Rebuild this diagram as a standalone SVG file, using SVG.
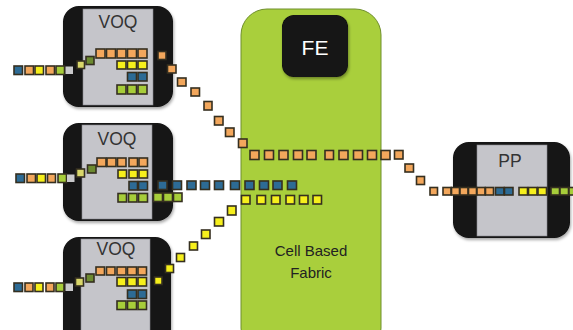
<svg xmlns="http://www.w3.org/2000/svg" width="573" height="330" viewBox="0 0 573 330">
<defs>
<style>
.frame{fill:#121212}
.inner{fill:#c5c5ca;stroke:#8a8a90;stroke-width:0.6}
.lbl{font-family:"Liberation Sans",Arial,sans-serif;font-size:17.5px;fill:#333;text-anchor:middle}
.fab{font-family:"Liberation Sans",Arial,sans-serif;font-size:15px;fill:#222;text-anchor:middle}
.fe{font-family:"Liberation Sans",Arial,sans-serif;font-size:21px;fill:#fff;text-anchor:middle}
rect.c{stroke:#352f20;stroke-width:1.6}
.b{fill:#2d6b95}
.o{fill:#f3a75c}
.y{fill:#f6ef1c}
.g{fill:#a7cd3a}
.k{fill:#c9c9cb}
.t{fill:#d9d76a}
.d{fill:#6c8a30}
</style>
<filter id="sh" x="-10%" y="-10%" width="120%" height="120%"><feDropShadow dx="1" dy="2" stdDeviation="1.5" flood-opacity="0.35"/></filter>
</defs>
<rect width="573" height="330" fill="#fff"/>

<g id="fabric">
<rect x="241" y="9" width="140" height="345" rx="26" fill="#a9cf3c" stroke="#6f8f2c" stroke-width="1"/>
<rect x="282" y="15" width="66" height="62" rx="12" fill="#121212" filter="url(#sh)"/>
<text class="fe" x="315" y="55">FE</text>
<text class="fab" x="311" y="256">Cell Based</text>
<text class="fab" x="311" y="278">Fabric</text>
</g>

<g id="voq1">
<rect class="frame" x="63" y="6" width="110" height="101" rx="16" filter="url(#sh)"/>
<rect class="inner" x="83" y="9" width="70" height="96"/>
<text class="lbl" x="118" y="28">VOQ</text>
<rect class="c b" x="14" y="66" width="8.5" height="8.5"/>
<rect class="c o" x="25" y="66" width="8.5" height="8.5"/>
<rect class="c y" x="35" y="66" width="8.5" height="8.5"/>
<rect class="c o" x="46" y="66" width="8.5" height="8.5"/>
<rect class="c g" x="56" y="66" width="8.5" height="8.5"/>
<rect class="k" x="65.5" y="66.5" width="7.5" height="7.5"/>
<rect class="c t" x="77" y="61" width="7.5" height="7.5"/>
<rect class="c d" x="86" y="56.5" width="8" height="8"/>
<rect class="c o" x="96" y="49" width="9" height="9"/>
<rect class="c o" x="106.5" y="49" width="9" height="9"/>
<rect class="c o" x="117" y="49" width="9" height="9"/>
<rect class="c o" x="127.5" y="49" width="9" height="9"/>
<rect class="c o" x="138" y="49" width="9" height="9"/>
<rect class="c y" x="117" y="61" width="9" height="8"/>
<rect class="c y" x="127.5" y="61" width="9" height="8"/>
<rect class="c y" x="138" y="61" width="9" height="8"/>
<rect class="c b" x="127.5" y="72.5" width="9" height="8.5"/>
<rect class="c b" x="138" y="72.5" width="9" height="8.5"/>
<rect class="c g" x="117" y="85" width="9" height="9"/>
<rect class="c g" x="127.5" y="85" width="9" height="9"/>
<rect class="c g" x="138" y="85" width="9" height="9"/>
</g>

<g id="voq2">
<rect class="frame" x="63" y="123" width="110" height="98" rx="16" filter="url(#sh)"/>
<rect class="inner" x="82" y="125" width="70" height="94"/>
<text class="lbl" x="117" y="145">VOQ</text>
<rect class="c b" x="16" y="174" width="8.5" height="8.5"/>
<rect class="c o" x="27" y="174" width="8.5" height="8.5"/>
<rect class="c y" x="37" y="174" width="8.5" height="8.5"/>
<rect class="c o" x="47.5" y="174" width="8" height="8.5"/>
<rect class="c g" x="58" y="174" width="8.5" height="8.5"/>
<rect class="k" x="67" y="174.5" width="7.5" height="7.5"/>
<rect class="c t" x="76.5" y="169" width="8" height="8"/>
<rect class="c d" x="87.5" y="165" width="8.5" height="8"/>
<rect class="c o" x="97" y="158" width="9" height="8.5"/>
<rect class="c o" x="107" y="158" width="9" height="8.5"/>
<rect class="c o" x="117.5" y="158" width="8.5" height="8.5"/>
<rect class="c o" x="129" y="158" width="8.5" height="8.5"/>
<rect class="c o" x="139" y="158" width="8.5" height="8.5"/>
<rect class="c y" x="118" y="170" width="8.5" height="8"/>
<rect class="c y" x="129" y="170" width="8.5" height="8"/>
<rect class="c y" x="139" y="170" width="8.5" height="8"/>
<rect class="c b" x="129" y="181.5" width="8.5" height="8.5"/>
<rect class="c b" x="138.5" y="181.5" width="9" height="8.5"/>
<rect class="c g" x="118" y="193.5" width="8.5" height="8.5"/>
<rect class="c g" x="128.5" y="193.5" width="8.5" height="8.5"/>
<rect class="c g" x="138.5" y="193.5" width="9" height="8.5"/>
</g>

<g id="voq3">
<rect class="frame" x="63" y="237" width="108" height="110" rx="16" filter="url(#sh)"/>
<rect class="inner" x="81" y="239" width="69" height="105"/>
<text class="lbl" x="116" y="255">VOQ</text>
<rect class="c b" x="14" y="283" width="8.5" height="8.5"/>
<rect class="c o" x="25" y="283" width="8" height="8.5"/>
<rect class="c y" x="35" y="283" width="8" height="8.5"/>
<rect class="c o" x="46" y="283" width="8" height="8.5"/>
<rect class="c g" x="56" y="283" width="8" height="8.5"/>
<rect class="k" x="65.5" y="283.5" width="7.5" height="7.5"/>
<rect class="c t" x="75.5" y="278" width="8" height="8"/>
<rect class="c d" x="86" y="274" width="8" height="8"/>
<rect class="c o" x="96" y="267" width="8.5" height="8"/>
<rect class="c o" x="106.5" y="267" width="8.5" height="8"/>
<rect class="c o" x="117" y="267" width="9" height="8"/>
<rect class="c o" x="127.5" y="267" width="9" height="8"/>
<rect class="c o" x="138" y="267" width="8.5" height="8"/>
<rect class="c y" x="117" y="277.5" width="9" height="8.5"/>
<rect class="c y" x="127.5" y="277.5" width="9" height="8.5"/>
<rect class="c y" x="138" y="277.5" width="8.5" height="8.5"/>
<rect class="c b" x="127.5" y="290" width="9" height="8.5"/>
<rect class="c b" x="138" y="290" width="8.5" height="8.5"/>
<rect class="c g" x="117" y="301" width="9" height="8.5"/>
<rect class="c g" x="127.5" y="301" width="9" height="8.5"/>
<rect class="c g" x="138" y="301" width="8.5" height="8.5"/>
</g>

<g id="pp">
<rect class="frame" x="453" y="142" width="117" height="96" rx="16" filter="url(#sh)"/>
<rect class="inner" x="477" y="145" width="70" height="91"/>
<text class="lbl" x="510" y="167">PP</text>
</g>

<g id="connectors">
<rect class="c o" x="158" y="51.5" width="8" height="8"/>
<rect class="c o" x="167.5" y="65" width="8.5" height="8"/>
<rect class="c o" x="177.5" y="78" width="8.5" height="8"/>
<rect class="c o" x="191" y="88" width="8.5" height="8"/>
<rect class="c o" x="204" y="101.5" width="8" height="8.5"/>
<rect class="c o" x="214.5" y="116.5" width="8.5" height="8.5"/>
<rect class="c o" x="225.5" y="128" width="8.5" height="8.5"/>
<rect class="c o" x="238.5" y="139" width="8.5" height="8.5"/>
<rect class="c o" x="250" y="150.5" width="9" height="9"/>
<rect class="c o" x="264.5" y="150.5" width="9" height="9"/>
<rect class="c o" x="279" y="150.5" width="9" height="9"/>
<rect class="c o" x="293.5" y="150.5" width="9" height="9"/>
<rect class="c o" x="307" y="150.5" width="9" height="9"/>
<rect class="c o" x="325" y="150.5" width="8.5" height="9"/>
<rect class="c o" x="339" y="150.5" width="9" height="9"/>
<rect class="c o" x="353.5" y="150.5" width="9" height="9"/>
<rect class="c o" x="367.5" y="150.5" width="9" height="9"/>
<rect class="c o" x="381" y="150.5" width="9" height="9"/>
<rect class="c o" x="394.5" y="150.5" width="8.5" height="8.5"/>
<rect class="c o" x="405" y="164" width="8.5" height="8"/>
<rect class="c o" x="416.5" y="176.5" width="8" height="8"/>
<rect class="c o" x="430" y="187.5" width="7.5" height="7.5"/>
<rect class="c o" x="443" y="187.5" width="8" height="7.5"/>
<rect class="c o" x="451.5" y="187.5" width="8" height="7.5"/>
<rect class="c o" x="460" y="187.5" width="8" height="7.5"/>
<rect class="c o" x="468.5" y="187.5" width="8" height="7.5"/>
<rect class="c o" x="477" y="187.5" width="8" height="7.5"/>
<rect class="c o" x="485.5" y="187.5" width="8" height="7.5"/>
<rect class="c b" x="495.5" y="187.5" width="8.5" height="7.5"/>
<rect class="c b" x="504.5" y="187.5" width="8.5" height="7.5"/>
<rect class="c y" x="519" y="187.5" width="8.5" height="7.5"/>
<rect class="c y" x="528.5" y="187.5" width="8.5" height="7.5"/>
<rect class="c y" x="538" y="187.5" width="8.5" height="7.5"/>
<rect class="c g" x="551" y="187.5" width="8.5" height="7.5"/>
<rect class="c g" x="560" y="187.5" width="8.5" height="7.5"/>
<rect class="c g" x="569" y="187.5" width="8.5" height="7.5"/>
<rect class="c b" x="158" y="181" width="9" height="8.5"/>
<rect class="c b" x="172.5" y="181" width="9" height="8.5"/>
<rect class="c b" x="187" y="181" width="9" height="8.5"/>
<rect class="c b" x="200.5" y="181" width="9" height="8.5"/>
<rect class="c b" x="214.5" y="181" width="9" height="8.5"/>
<rect class="c b" x="230.5" y="181" width="9" height="8.5"/>
<rect class="c b" x="245" y="181" width="9" height="8.5"/>
<rect class="c b" x="259.5" y="181" width="9" height="8.5"/>
<rect class="c b" x="273" y="181" width="9" height="8.5"/>
<rect class="c b" x="287.5" y="181" width="9" height="8.5"/>
<rect class="c g" x="153.5" y="193" width="9" height="8.5"/>
<rect class="c g" x="163.5" y="193" width="9" height="8.5"/>
<rect class="c g" x="173.5" y="193" width="8.5" height="8.5"/>
<rect class="c y" x="154.5" y="277" width="7.5" height="7.5"/>
<rect class="c y" x="165.5" y="264.5" width="8" height="8"/>
<rect class="c y" x="176.5" y="253.5" width="8" height="8"/>
<rect class="c y" x="189.5" y="242" width="8" height="8"/>
<rect class="c y" x="201.5" y="230" width="8.5" height="8.5"/>
<rect class="c y" x="214.5" y="217.5" width="9" height="8.5"/>
<rect class="c y" x="227.5" y="206" width="8.5" height="9"/>
<rect class="c y" x="241.5" y="195.5" width="8.5" height="8.5"/>
<rect class="c y" x="257" y="195.5" width="8.5" height="8.5"/>
<rect class="c y" x="271.5" y="195.5" width="8.5" height="8.5"/>
<rect class="c y" x="286" y="195.5" width="8.5" height="8.5"/>
<rect class="c y" x="299.5" y="195.5" width="8.5" height="8.5"/>
<rect class="c y" x="313" y="195.5" width="8.5" height="8.5"/>
</g>
</svg>
